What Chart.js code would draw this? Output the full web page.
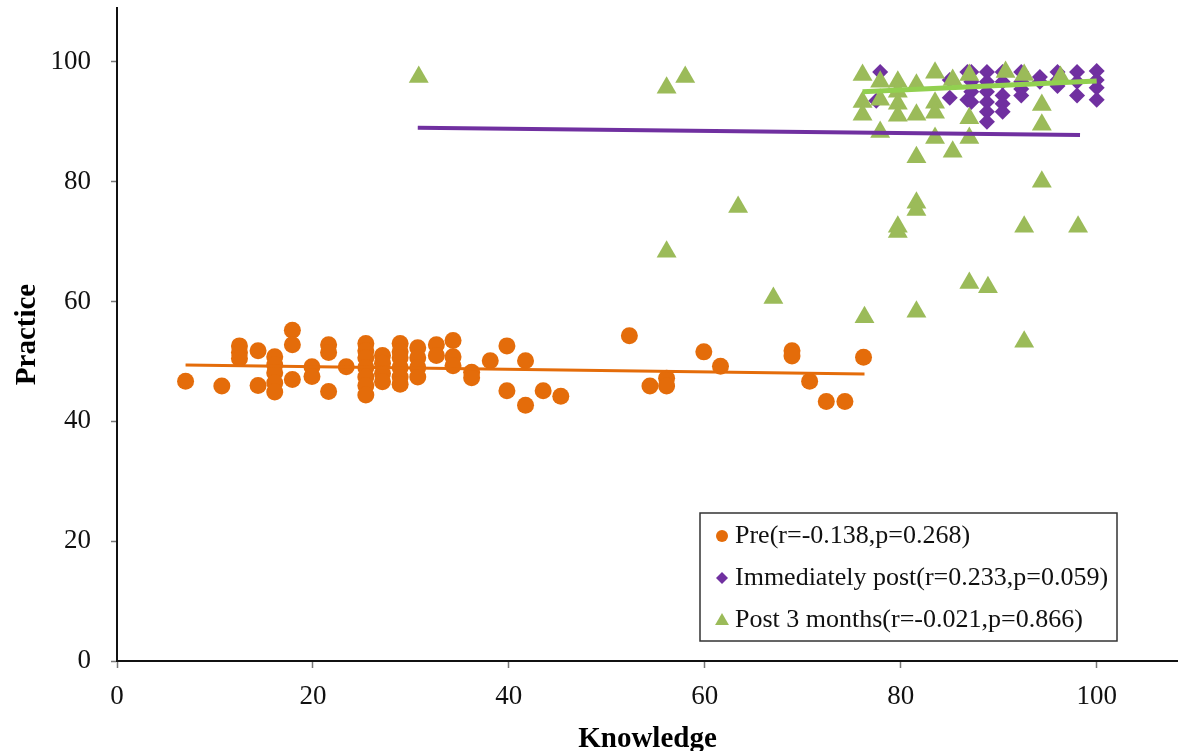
<!DOCTYPE html>
<html><head><meta charset="utf-8">
<script src="https://cdn.jsdelivr.net/npm/chart.js@4/dist/chart.umd.min.js"></script>
<style>html,body{margin:0;padding:0;background:#fff}#wrap{width:1178px;height:751px;position:relative}</style>
</head><body><div id="wrap"><canvas id="c"></canvas></div>
<script>
// ---- Data ----
const preKnowledge = [7.0,10.7,12.5,12.5,12.5,14.4,14.4,16.1,16.1,16.1,16.1,16.1,17.9,17.9,17.9,19.9,19.9,21.6,21.6,21.6,23.4,
  25.4,25.4,25.4,25.4,25.4,25.4,25.4,27.1,27.1,27.1,27.1,28.9,28.9,28.9,28.9,28.9,28.9,30.7,30.7,30.7,30.7,32.6,32.6,34.3,34.3,34.3,
  36.2,36.2,38.1,39.8,39.8,41.7,41.7,43.5,45.3,52.3,54.4,56.1,56.1,59.9,61.6,68.9,68.9,70.7,72.4,74.3,76.2];
const prePractice = [46.7,45.9,52.6,51.5,50.5,51.8,46.0,50.8,49.4,48.1,46.4,44.9,55.2,52.8,47.0,49.1,47.5,52.8,51.5,45.0,49.1,
  53.0,51.8,50.6,49.0,47.4,46.0,44.4,51.0,49.7,48.0,46.6,53.0,51.6,50.6,49.0,47.4,46.2,52.3,50.6,49.0,47.4,52.8,51.0,53.5,50.8,49.3,
  48.2,47.3,50.1,52.6,45.1,50.1,42.7,45.1,44.2,54.3,45.9,47.2,45.9,51.6,49.2,51.8,50.9,46.7,43.3,43.3,50.7];

const immKnowledge = [77.5,77.9,85.0,85.0,86.8,86.8,87.2,87.2,87.2,87.2,88.8,88.8,88.8,88.8,88.8,88.8,
  90.4,90.4,90.4,90.4,90.4,92.3,92.3,92.3,92.3,94.2,94.2,96.0,96.0,96.0,98.0,98.0,98.0,100,100,100,100];
const immPractice = [93.5,98.3,97.0,94.0,98.3,93.7,98.3,96.7,95.0,93.3,98.3,96.7,95.0,93.3,91.7,90.0,
  98.3,96.7,94.4,93.0,91.7,98.3,96.7,95.5,94.4,97.5,96.7,98.3,97.0,96.0,98.3,96.7,94.4,98.5,97.0,95.7,93.7];

const post3Knowledge = [30.8,56.1,58.0,56.1,63.4,67.0,76.3,76.1,76.1,76.1,77.9,77.9,77.9,
  79.7,79.7,79.7,79.7,79.7,79.7,81.6,81.6,81.6,81.6,81.6,81.6,83.5,83.5,83.5,83.5,85.3,85.3,
  87.0,87.0,87.0,87.0,88.9,90.7,92.6,92.6,92.6,94.4,94.4,94.4,96.3,98.1];
const post3Practice = [97.5,95.7,97.5,68.3,75.8,60.6,57.4,97.8,93.3,91.2,96.7,93.7,88.3,
  96.7,95.0,93.0,91.0,72.5,71.6,96.2,91.2,84.1,76.5,75.3,58.3,98.2,93.2,91.5,87.3,97.0,85.0,
  97.8,90.6,87.3,63.1,62.4,98.3,97.8,72.5,53.3,92.8,89.5,80.0,97.5,72.5];

// trend lines (end points)
const preTrendX = [7.0, 76.3];
const preTrendY = [49.4, 47.9];
const purpleTrendX = [30.7, 98.3];
const purpleTrendY = [89.0, 87.8];
const greenTrendX = [76.1, 100];
const greenTrendY = [95.0, 96.8];

const seriesLabels = ['Pre(r=-0.138,p=0.268)', 'Immediately post(r=0.233,p=0.059)', 'Post 3 months(r=-0.021,p=0.866)'];
const xTickValues = [0,20,40,60,80,100];
const yTickValues = [0,20,40,60,80,100];
const xTitle = 'Knowledge';
const yTitle = 'Practice';

// ---- Chart ----
const ORANGE = '#E46C0A', PURPLE = '#7030A0', GREEN = '#9BBB59', LGREEN = '#92D050';
const pts = (xs, ys) => xs.map((x, i) => ({x, y: ys[i]}));
const SERIF = '"Liberation Serif", "Times New Roman", serif';

const legendBox = {
  id: 'legendBox',
  afterDraw(chart) {
    const ctx = chart.ctx, ca = chart.chartArea;
    const w = 417, h = 128;
    const bx = ca.right - 61 - w, by = ca.bottom - 20 - h;
    ctx.save();
    ctx.fillStyle = '#fff';
    ctx.fillRect(bx, by, w, h);
    ctx.strokeStyle = '#333';
    ctx.lineWidth = 1.5;
    ctx.strokeRect(bx, by, w, h);
    const styles = [
      {pointStyle: 'circle', radius: 6, color: ORANGE},
      {pointStyle: 'rectRot', radius: 6, color: PURPLE},
      {pointStyle: 'triangle', radius: 8, color: GREEN}
    ];
    ctx.font = '26px ' + SERIF;
    ctx.textBaseline = 'middle';
    seriesLabels.forEach((lab, i) => {
      const cy = by + 23 + i * 42;
      const s = styles[i];
      ctx.fillStyle = s.color;
      ctx.strokeStyle = s.color;
      Chart.helpers.drawPoint(ctx, {pointStyle: s.pointStyle, radius: s.radius, rotation: 0, borderWidth: 0}, bx + 22, cy + (i === 2 ? 1 : 0));
      ctx.fillStyle = '#111';
      ctx.fillText(lab, bx + 35, cy);
    });
    ctx.restore();
  }
};

new Chart(document.getElementById('c'), {
  type: 'scatter',
  data: {
    datasets: [
      {label: 'preTrend', type: 'line', data: pts(preTrendX, preTrendY), borderColor: ORANGE, borderWidth: 3, pointRadius: 0, fill: false, order: 0},
      {label: 'purpleTrend', type: 'line', data: pts(purpleTrendX, purpleTrendY), borderColor: PURPLE, borderWidth: 4, pointRadius: 0, fill: false, order: 0},
      {label: 'greenTrend', type: 'line', data: pts(greenTrendX, greenTrendY), borderColor: LGREEN, borderWidth: 5, pointRadius: 0, fill: false, order: 0},
      {label: seriesLabels[2], data: pts(post3Knowledge, post3Practice), pointStyle: 'triangle', pointRadius: 11.5, backgroundColor: GREEN, borderWidth: 0, order: 1},
      {label: seriesLabels[0], data: pts(preKnowledge, prePractice), pointStyle: 'circle', pointRadius: 8.5, backgroundColor: ORANGE, borderWidth: 0, order: 2},
      {label: seriesLabels[1], data: pts(immKnowledge, immPractice), pointStyle: 'rectRot', pointRadius: 8, backgroundColor: PURPLE, borderWidth: 0, order: 3}
    ]
  },
  options: {
    responsive: true,
    maintainAspectRatio: false,
    animation: false,
    layout: {autoPadding: false, padding: {top: 8, right: 0, left: 0, bottom: 0}},
    plugins: {legend: {display: false}, tooltip: {enabled: false}},
    scales: {
      x: {
        type: 'linear', min: 0, max: 108.3,
        afterFit: s => { s.height = 90; s.paddingLeft = 0; s.paddingRight = 0; },
        afterBuildTicks: s => { s.ticks = xTickValues.map(v => ({value: v})); },
        ticks: {font: {family: SERIF, size: 27}, color: '#111', padding: 13, maxRotation: 0},
        grid: {drawOnChartArea: false, drawTicks: true, tickLength: 7, color: '#777', tickWidth: 1.5},
        border: {display: true, color: '#111', width: 2},
        title: {display: true, text: xTitle, font: {family: SERIF, size: 29, weight: 'bold'}, color: '#000', padding: {top: 0, bottom: -6}}
      },
      y: {
        type: 'linear', min: 0, max: 109,
        afterFit: s => { s.width = 117; s.paddingTop = 0; s.paddingBottom = 0; },
        afterBuildTicks: s => { s.ticks = yTickValues.map(v => ({value: v})); },
        ticks: {font: {family: SERIF, size: 27}, color: '#111', padding: 20},
        grid: {drawOnChartArea: false, drawTicks: true, tickLength: 6, color: '#777', tickWidth: 1.5},
        border: {display: true, color: '#111', width: 2},
        title: {display: true, text: yTitle, font: {family: SERIF, size: 29, weight: 'bold'}, color: '#000', padding: {top: 10, bottom: 0}}
      }
    }
  },
  plugins: [legendBox]
});
</script>
</body></html>
